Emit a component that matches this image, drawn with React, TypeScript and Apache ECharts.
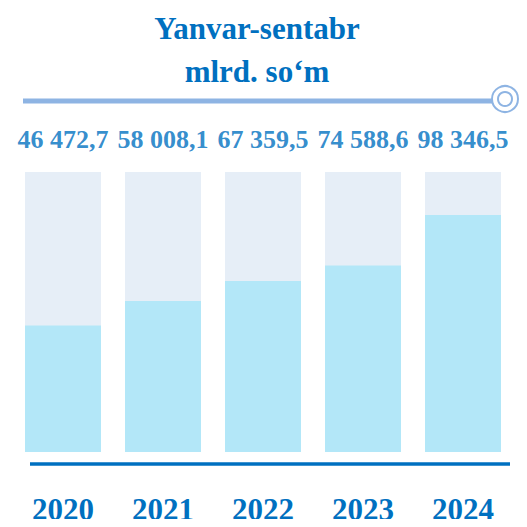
import React, { useEffect, useRef } from "react";
import * as echarts from "echarts";

const years = ["2020", "2021", "2022", "2023", "2024"];
const values = [46472.7, 58008.1, 67359.5, 74588.6, 98346.5];
const valueLabels = ["46 472,7", "58 008,1", "67 359,5", "74 588,6", "98 346,5"];
const titleLines = ["Yanvar-sentabr", "mlrd. so\u2018m"];

// the infographic's bars do not start at zero
const Y_MIN = -12900;
const Y_MAX = 118500;
const BLUE = "#0070c0";
const FILL = "#b3e7f8";
const FONT = "'Liberation Serif', 'Times New Roman', serif";

export default function App() {
  const ref = useRef<HTMLDivElement>(null);
  useEffect(() => {
    if (!ref.current) return;
    const chart = echarts.init(ref.current, undefined, { renderer: "svg" });
    chart.setOption({
      animation: false,
      grid: { left: 13, right: 14, top: 172, bottom: 75 },
      xAxis: {
        type: "category",
        data: years,
        axisLine: { show: false },
        axisTick: { show: false },
        axisLabel: {
          margin: 42,
          color: BLUE,
          fontSize: 31,
          fontWeight: "bold",
          fontFamily: FONT,
        },
      },
      yAxis: {
        type: "value",
        min: Y_MIN,
        max: Y_MAX,
        startValue: Y_MIN,
        show: false,
        splitLine: { show: false },
      },
      series: [
        {
          type: "bar",
          data: values,
          barWidth: 76,
          itemStyle: { color: FILL },
          showBackground: true,
          backgroundStyle: { color: "#e6eef7" },
        },
        {
          type: "scatter",
          data: values.map(() => Y_MAX),
          symbolSize: 0,
          label: {
            show: true,
            position: "top",
            distance: 20,
            formatter: (p: any) => valueLabels[p.dataIndex],
            color: BLUE,
            fontSize: 26,
            fontWeight: "bold",
            fontFamily: FONT,
          },
        },
      ],
      graphic: [
        {
          type: "text",
          x: 257,
          y: 28,
          style: {
            text: titleLines[0],
            fill: BLUE,
            font: `bold 31px ${FONT}`,
            textAlign: "center",
            textVerticalAlign: "middle",
          },
        },
        {
          type: "text",
          x: 257,
          y: 71,
          style: {
            text: titleLines[1],
            fill: BLUE,
            font: `bold 31px ${FONT}`,
            textAlign: "center",
            textVerticalAlign: "middle",
          },
        },
        {
          type: "line",
          shape: { x1: 23, y1: 101, x2: 492, y2: 101 },
          style: { stroke: "#8eb4e3", lineWidth: 5 },
        },
        {
          type: "circle",
          shape: { cx: 505, cy: 99, r: 13 },
          style: { stroke: "#8eb4e3", lineWidth: 2, fill: "#fff" },
        },
        {
          type: "circle",
          shape: { cx: 505, cy: 99, r: 7 },
          style: { stroke: "#8eb4e3", lineWidth: 2, fill: "#fff" },
        },
        {
          type: "line",
          shape: { x1: 30, y1: 464, x2: 510, y2: 464 },
          style: { stroke: BLUE, lineWidth: 3.5 },
        },
      ],
    });
    return () => chart.dispose();
  }, []);
  return <div ref={ref} style={{ width: 527, height: 527, margin: -8 }} />;
}
